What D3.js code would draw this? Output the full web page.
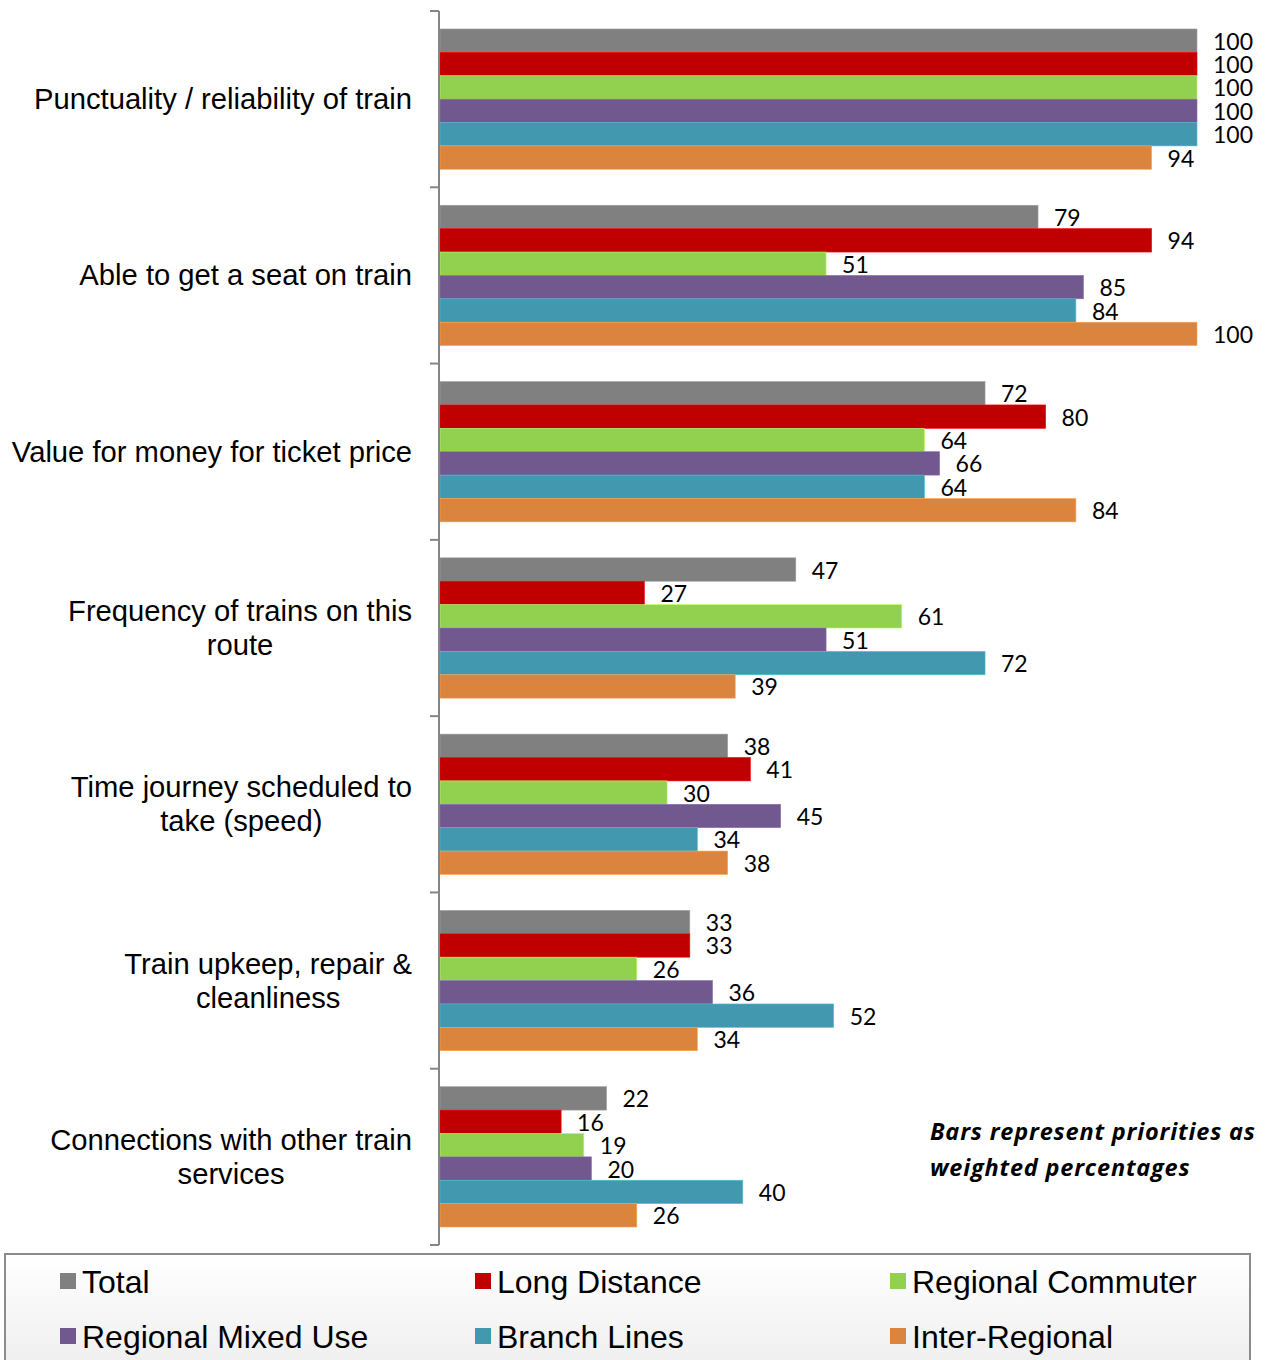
<!DOCTYPE html>
<html>
<head>
<meta charset="utf-8">
<script src="https://cdn.jsdelivr.net/npm/d3@7"></script>
<style>
  html, body { margin: 0; padding: 0; background: #ffffff; }
  svg { display: block; }
</style>
</head>
<body>
<svg id="chart" width="1266" height="1360"></svg>
<script>
// Rail passenger priorities by route type (weighted percentages)
const categories = [
  ["Punctuality / reliability of train"],
  ["Able to get a seat on train"],
  ["Value for money for ticket price"],
  ["Frequency of trains on this", "route"],
  ["Time journey scheduled to", "take (speed)"],
  ["Train upkeep, repair &", "cleanliness"],
  ["Connections with other train", "services"]
];
const seriesNames = ["Total", "Long Distance", "Regional Commuter", "Regional Mixed Use", "Branch Lines", "Inter-Regional"];
const seriesColors = ["#808080", "#C00000", "#92D050", "#71588F", "#4198AF", "#DB843D"];

const total            = [100, 79, 72, 47, 38, 33, 22];
const longDistance     = [100, 94, 80, 27, 41, 33, 16];
const regionalCommuter = [100, 51, 64, 61, 30, 26, 19];
const regionalMixedUse = [100, 85, 66, 51, 45, 36, 20];
const branchLines      = [100, 84, 64, 72, 34, 52, 40];
const interRegional    = [94, 100, 84, 39, 38, 34, 26];
const seriesValues = [total, longDistance, regionalCommuter, regionalMixedUse, branchLines, interRegional];

const noteLines = ["Bars represent priorities as", "weighted percentages"];

const svg = d3.select("#chart");

const plotTop = 11, plotBottom = 1245;
const axisX = 439;

const x = d3.scaleLinear().domain([0, 100]).range([440, 1197]);

const y0 = d3.scaleBand()
  .domain(d3.range(categories.length))
  .range([plotTop, plotBottom])
  .paddingInner(0.204)
  .paddingOuter(0.102);

const y1 = d3.scaleBand()
  .domain(d3.range(seriesNames.length))
  .range([0, y0.bandwidth()])
  .padding(0);

// bars
const groups = svg.append("g").selectAll("g")
  .data(categories.map((c, i) => i))
  .join("g")
  .attr("transform", i => `translate(0,${y0(i)})`);

groups.selectAll("rect")
  .data(i => seriesValues.map((vals, s) => ({ s, v: vals[i] })))
  .join("rect")
  .attr("x", x(0))
  .attr("y", d => y1(d.s))
  .attr("width", d => x(d.v) - x(0))
  .attr("height", y1.bandwidth())
  .attr("fill", d => seriesColors[d.s])
  .attr("stroke", d => d3.color(seriesColors[d.s]).brighter(0.6))
  .attr("stroke-width", 0.6);

// value labels
groups.selectAll("text")
  .data(i => seriesValues.map((vals, s) => ({ s, v: vals[i] })))
  .join("text")
  .attr("x", d => x(d.v) + 16)
  .attr("y", d => y1(d.s) + y1.bandwidth() / 2 + 9)
  .attr("font-family", "Lato, 'Open Sans', sans-serif")
  .attr("font-size", 23)
  .attr("fill", "#000")
  .text(d => d.v);

// category axis with boundary ticks
const axisG = svg.append("g");
axisG.append("line")
  .attr("x1", axisX).attr("x2", axisX)
  .attr("y1", plotTop).attr("y2", plotBottom)
  .attr("stroke", "#868686").attr("stroke-width", 2);
const step = y0.step();
axisG.selectAll("line.tick")
  .data(d3.range(categories.length + 1))
  .join("line")
  .attr("class", "tick")
  .attr("x1", axisX - 9).attr("x2", axisX)
  .attr("y1", i => plotTop + i * step)
  .attr("y2", i => plotTop + i * step)
  .attr("stroke", "#868686").attr("stroke-width", 2);

// category labels: lines centred on each other, block right-aligned to the axis
const labelRight = 412;
const lineH = 34;
categories.forEach((lines, i) => {
  const cy = y0(i) + y0.bandwidth() / 2;
  const g = svg.append("g");
  const texts = lines.map((t, k) => g.append("text")
    .attr("font-family", "'Liberation Sans', Arial, sans-serif")
    .attr("font-size", 29.2)
    .attr("fill", "#000")
    .attr("text-anchor", "middle")
    .attr("y", cy + (k - (lines.length - 1) / 2) * lineH + 10)
    .text(t));
  const w = d3.max(texts, t => t.node().getComputedTextLength());
  texts.forEach(t => t.attr("x", labelRight - w / 2));
});

// note
svg.append("g").selectAll("text")
  .data(noteLines)
  .join("text")
  .attr("x", 930)
  .attr("y", (d, i) => 1140 + i * 36)
  .attr("font-family", "'Open Sans', Lato, sans-serif")
  .attr("font-size", 23.5)
  .attr("letter-spacing", 0.8)
  .attr("font-weight", "bold")
  .attr("font-style", "italic")
  .attr("fill", "#000")
  .text(d => d);

// legend box
const defs = svg.append("defs");
const grad = defs.append("linearGradient")
  .attr("id", "legendBg").attr("x1", 0).attr("y1", 0).attr("x2", 0).attr("y2", 1);
grad.append("stop").attr("offset", "0%").attr("stop-color", "#ffffff");
grad.append("stop").attr("offset", "100%").attr("stop-color", "#ececec");

svg.append("rect")
  .attr("x", 5).attr("y", 1254)
  .attr("width", 1245).attr("height", 130)
  .attr("fill", "url(#legendBg)")
  .attr("stroke", "#8c8c8c").attr("stroke-width", 2);

const legendCols = [60, 475, 890];
const legendRows = [1282, 1337];
const legend = svg.append("g").selectAll("g")
  .data(seriesNames)
  .join("g")
  .attr("transform", (d, i) => `translate(${legendCols[i % 3]},${legendRows[Math.floor(i / 3)]})`);
legend.append("rect")
  .attr("x", 0).attr("y", -9)
  .attr("width", 16).attr("height", 16)
  .attr("fill", (d, i) => seriesColors[i]);
legend.append("text")
  .attr("x", 22).attr("y", 11)
  .attr("font-family", "'Liberation Sans', Arial, sans-serif")
  .attr("font-size", 32)
  .attr("fill", "#000")
  .text(d => d);
</script>
</body>
</html>
